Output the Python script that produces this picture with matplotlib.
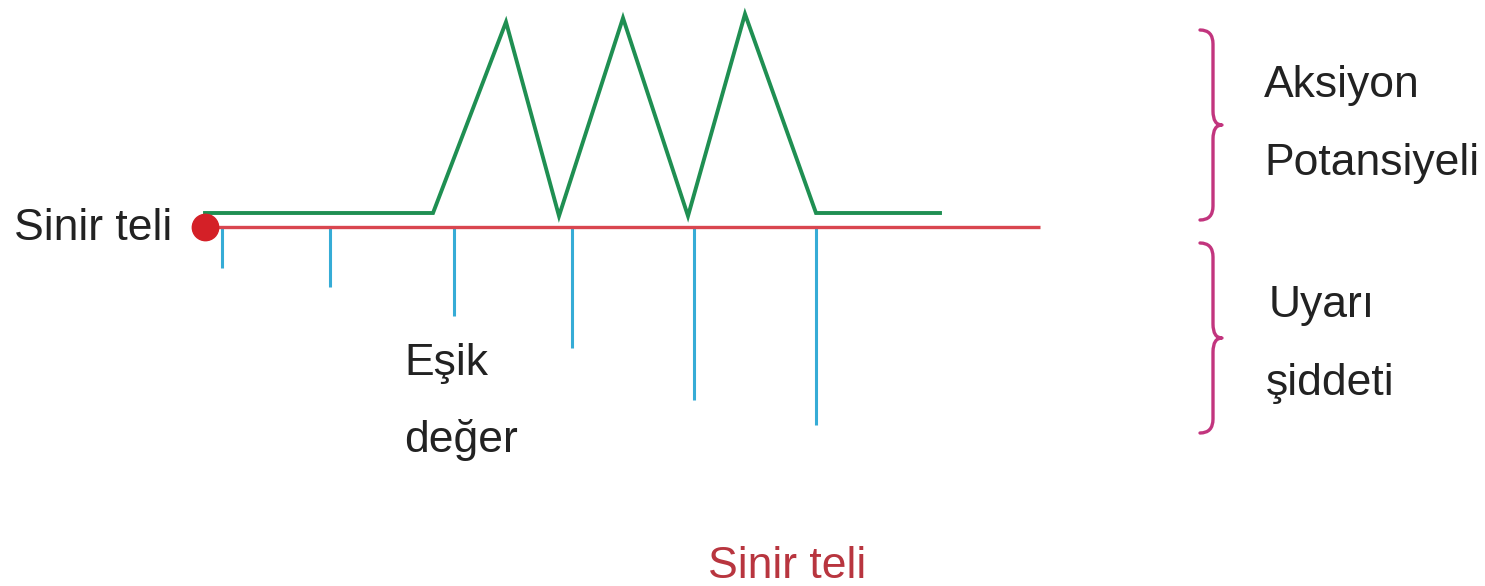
import matplotlib.pyplot as plt
from matplotlib.patches import PathPatch
from matplotlib.path import Path

plt.rcParams["font.family"] = ["Liberation Sans", "DejaVu Sans"]

# coordinates in image pixels (y grows downward)
potential_x = [205, 433, 506, 559, 623, 688, 745, 816, 940]
potential_y = [213, 213, 22, 216, 18, 216, 14, 213, 213]

nerve_x = [205, 1040]
nerve_y = 227

stimulus_x = [222, 330, 454, 572, 694, 816]
stimulus_end = [268, 287, 316, 348, 400, 425]

brace_spans = [(30, 220), (243, 433)]

GREEN = "#1f8f52"
RED = "#d9464f"
BLUE = "#36acd6"
BRACE = "#c2357e"
TEXT = "#222222"


def draw_brace(ax, top, bot, x_left=1200, x_mid=1213, x_tip=1222, r=14):
    mid = (top + bot) / 2
    verts = [
        (x_left, top), (x_mid, top), (x_mid, top + r),
        (x_mid, mid - r),
        (x_mid, mid), (x_tip, mid),
        (x_mid, mid), (x_mid, mid + r),
        (x_mid, bot - r),
        (x_mid, bot), (x_left, bot),
    ]
    codes = [
        Path.MOVETO, Path.CURVE3, Path.CURVE3,
        Path.LINETO,
        Path.CURVE3, Path.CURVE3,
        Path.CURVE3, Path.CURVE3,
        Path.LINETO,
        Path.CURVE3, Path.CURVE3,
    ]
    ax.add_patch(PathPatch(Path(verts, codes), fill=False, edgecolor=BRACE,
                           lw=2.4, capstyle="round", joinstyle="round"))


fig = plt.figure(figsize=(14.85, 5.86), dpi=100)
ax = fig.add_axes([0, 0, 1, 1])
ax.set_xlim(0, 1485)
ax.set_ylim(586, 0)
ax.axis("off")

# stimulus strengths
for x, y_end in zip(stimulus_x, stimulus_end):
    ax.plot([x, x], [nerve_y, y_end], color=BLUE, lw=2.2, solid_capstyle="butt")

# nerve fibre
ax.plot(nerve_x, [nerve_y, nerve_y], color=RED, lw=2.4, solid_capstyle="butt")

# action potentials
ax.plot(potential_x, potential_y, color=GREEN, lw=2.8, solid_joinstyle="miter")

ax.plot([nerve_x[0]], [nerve_y], "o", color="#d42027", markersize=19, zorder=5)

for top, bot in brace_spans:
    draw_brace(ax, top, bot)

fs = 32
ax.text(14, 229, "Sinir teli", fontsize=fs, color=TEXT, va="center", ha="left")
ax.text(1264, 85, "Aksiyon", fontsize=fs, color=TEXT, va="center", ha="left")
ax.text(1264, 163, "Potansiyeli", fontsize=fs, color=TEXT, va="center", ha="left")
ax.text(1269, 305, "Uyarı", fontsize=fs, color=TEXT, va="center", ha="left")
ax.text(1266, 383, "şiddeti", fontsize=fs, color=TEXT, va="center", ha="left")
ax.text(404, 363, "Eşik", fontsize=fs, color=TEXT, va="center", ha="left")
ax.text(404, 440, "değer", fontsize=fs, color=TEXT, va="center", ha="left")
ax.text(787, 567, "Sinir teli", fontsize=fs, color="#b8353f", va="center", ha="center")

fig.savefig("out.png", dpi=100)
